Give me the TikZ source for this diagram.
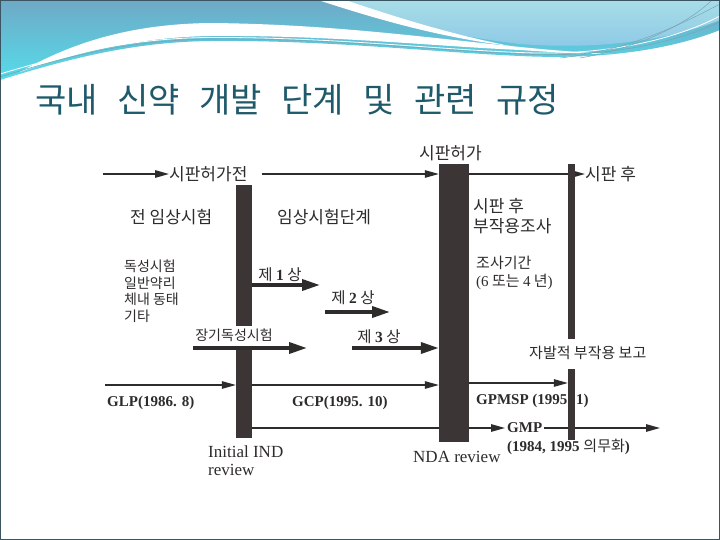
\documentclass[tikz,border=0pt]{standalone}
\usepackage{fontspec}
\setmainfont{Liberation Serif}
\newfontfamily\kr{Noto Sans CJK KR}
\usetikzlibrary{arrows.meta}
\definecolor{ink}{HTML}{2E2B2B}
\definecolor{barc}{HTML}{3B3535}
\definecolor{titlec}{HTML}{1F5A6B}
\definecolor{hdA}{HTML}{6FA9C6}
\definecolor{hdB}{HTML}{55DCEA}
\definecolor{hdC}{HTML}{A8DDE8}
\definecolor{hdD}{HTML}{8CC8E6}
\definecolor{stripe}{HTML}{7AA6B2}
\definecolor{frame}{HTML}{3A5562}
\pgfdeclarelayer{front}
\pgfsetlayers{main,front}
\begin{document}
\begin{tikzpicture}[x=1pt,y=-1pt,
  thinarr/.style={draw=ink, line width=1.3pt, -{Triangle[length=14pt,width=7.5pt]}},
  thinline/.style={draw=ink, line width=1.3pt},
  fatarr/.style={draw=ink, line width=3.5pt, -{Triangle[length=18pt,width=11pt]}},
  bar/.style={rectangle, fill=barc, draw=none, inner sep=0pt},
  krlab/.style={font=\kr\fontsize{17}{20}\selectfont, text=ink, inner sep=0pt},
  krsm/.style={font=\kr\fontsize{14}{16.5}\selectfont, text=ink, inner sep=0pt},
  krmid/.style={font=\kr\fontsize{15}{18}\selectfont, text=ink, inner sep=0pt},
  krph/.style={font=\kr\fontsize{15.5}{17}\selectfont, text=ink, inner sep=0pt},
  latb/.style={font=\bfseries\fontsize{15}{17}\selectfont, text=ink, inner sep=0pt},
  lat/.style={font=\fontsize{17}{18}\selectfont, text=ink, inner sep=0pt}]
\useasboundingbox (0,0) rectangle (720,540);
\fill[white] (0,0) rectangle (720,540);
% header
\shade[top color=hdA, bottom color=hdB] (0,0) -- (720,0) -- (720,30)
  .. controls (670,50) and (600,60) .. (520,56)
  .. controls (430,52) and (330,40) .. (210,41)
  .. controls (140,42) and (80,55) .. (0,80) -- cycle;
\shade[top color=hdC, bottom color=hdD] (335,0) .. controls (390,20) and (450,36) .. (520,44)
  .. controls (600,50) and (670,40) .. (720,20) -- (720,0) -- cycle;
\fill[white] (318,0) .. controls (385,22) and (445,38) .. (510,46)
  .. controls (445,33) and (390,15) .. (345,0) -- cycle;
\fill[white] (20,72) .. controls (80,38) and (140,24) .. (210,23)
  .. controls (330,24) and (430,38) .. (520,47)
  .. controls (560,51) and (590,53) .. (610,54)
  .. controls (580,54) and (550,52) .. (520,50)
  .. controls (430,46) and (330,35) .. (210,36)
  .. controls (150,37) and (90,48) .. (20,72) -- cycle;
\draw[stripe, line width=0.6pt] (0,77) .. controls (80,52) and (140,40) .. (210,39)
  .. controls (330,38) and (430,50) .. (520,54) .. controls (600,58) and (670,45) .. (720,22);
\draw[white, line width=0.8pt] (0,74) .. controls (80,50) and (140,38) .. (210,37.5)
  .. controls (330,37) and (430,49) .. (520,52.5) .. controls (600,56) and (670,42) .. (720,16);
\draw[stripe, line width=0.5pt] (560,58) .. controls (630,50) and (680,25) .. (720,4);
\draw[stripe, line width=0.5pt] (580,58) .. controls (640,48) and (690,22) .. (712,0);
% title
\node[anchor=west, inner sep=0pt, text=titlec, font=\kr\fontsize{34}{36}\selectfont] (title) at (35,100)
  {국내\hspace{19.5pt}신약\hspace{19.5pt}개발\hspace{19.5pt}단계\hspace{19.5pt}및\hspace{19.5pt}관련\hspace{19.5pt}규정};
% bars (front layer)
\begin{pgfonlayer}{front}
\node[bar, minimum width=16pt, minimum height=141pt] (b1a) at (244,255.5) {};
\node[bar, minimum width=16pt, minimum height=88pt] (b1b) at (244,394) {};
\node[bar, minimum width=30pt, minimum height=278pt] (b2) at (454,303) {};
\node[bar, minimum width=7pt, minimum height=175pt] (b3a) at (571.5,251.5) {};
\node[bar, minimum width=7pt, minimum height=71pt] (b3b) at (571.5,404.5) {};
\end{pgfonlayer}
% labels
\node[krlab, anchor=west] (pre) at (169,174) {시판허가전};
\node[krlab, anchor=west] (post) at (585,174) {시판 후};
\node[krlab, anchor=west] (appr) at (419,153) {시판허가};
\node[krlab, anchor=west] (precl) at (130,217) {전 임상시험};
\node[krlab, anchor=west] (clin) at (277,217) {임상시험단계};
\node[krsm, anchor=north west, align=left] (tox) at (124,260) {독성시험\\일반약리\\체내 동태\\기타};
\node[krlab, anchor=north west, align=left] (pms) at (473,198) {시판 후\\부작용조사};
\node[krmid, anchor=north west, align=left] (per) at (476,256) {조사기간\\{\rmfamily(6} 또는 {\rmfamily 4} 년{\rmfamily)}};
\node[krph] (ph1) at (280,275) {제 {\rmfamily\bfseries 1} 상};
\node[krph] (ph2) at (353,298) {제 {\rmfamily\bfseries 2} 상};
\node[krph] (ph3) at (379,337) {제 {\rmfamily\bfseries 3} 상};
\node[krsm] (ltox) at (234,335) {장기독성시험};
\node[krmid, anchor=west] (spont) at (529,353) {자발적 부작용 보고};
\node[latb, anchor=west] (glp) at (107,403) {GLP(1986. 8)};
\node[latb, anchor=west] (gcp) at (292,403) {GCP(1995. 10)};
\node[latb, anchor=west] (gpmsp) at (476,401) {GPMSP (1995. 1)};
\node[latb, anchor=west, inner sep=2pt] (gmp) at (505,428) {GMP};
\node[latb, anchor=west] (gmpyr) at (507,447) {(1984, 1995 {\kr\mdseries 의무화})};
\node[lat, anchor=north west, align=left] (ind) at (208,446) {Initial IND\\review};
\node[lat, anchor=west] (nda) at (413,457) {NDA review};
% connectors
\coordinate (s0) at (103,174);
\draw[thinarr] (s0) -- (pre.west);
\draw[thinarr] ([xshift=14pt]pre.east) -- (b2.west |- pre.east);
\draw[thinarr] (b2.east |- post.west) -- (post.west);
\coordinate (p1e) at (320,285);
\draw[fatarr] (b1a.east |- p1e) -- (p1e);
\coordinate (p2s) at (325,312);
\coordinate (p2e) at (390,312);
\draw[fatarr] (p2s) -- (p2e);
\coordinate (p3s) at (352,348);
\draw[fatarr] (p3s) -- (b2.west |- p3s);
\coordinate (lts) at (193,348);
\coordinate (lte) at (307,348);
\draw[fatarr] (lts) -- (lte);
\coordinate (gls) at (105,385);
\draw[thinarr] (gls) -- (b1b.west |- gls);
\draw[thinarr] (b1b.east |- gls) -- (b2.west |- gls);
\coordinate (gpy) at (500,383);
\draw[thinarr] (b2.east |- gpy) -- (b3b.west |- gpy);
\draw[thinline] (b1b.east |- gmp.west) -- (b2.west |- gmp.west);
\draw[thinarr] (b2.east |- gmp.west) -- (gmp.west);
\coordinate (ge) at (660,428);
\draw[thinarr] (gmp.east) -- (ge);
% slide frame
\draw[frame, line width=1.2pt] (0.6,0.6) rectangle (719.4,539.4);
\end{tikzpicture}
\end{document}
